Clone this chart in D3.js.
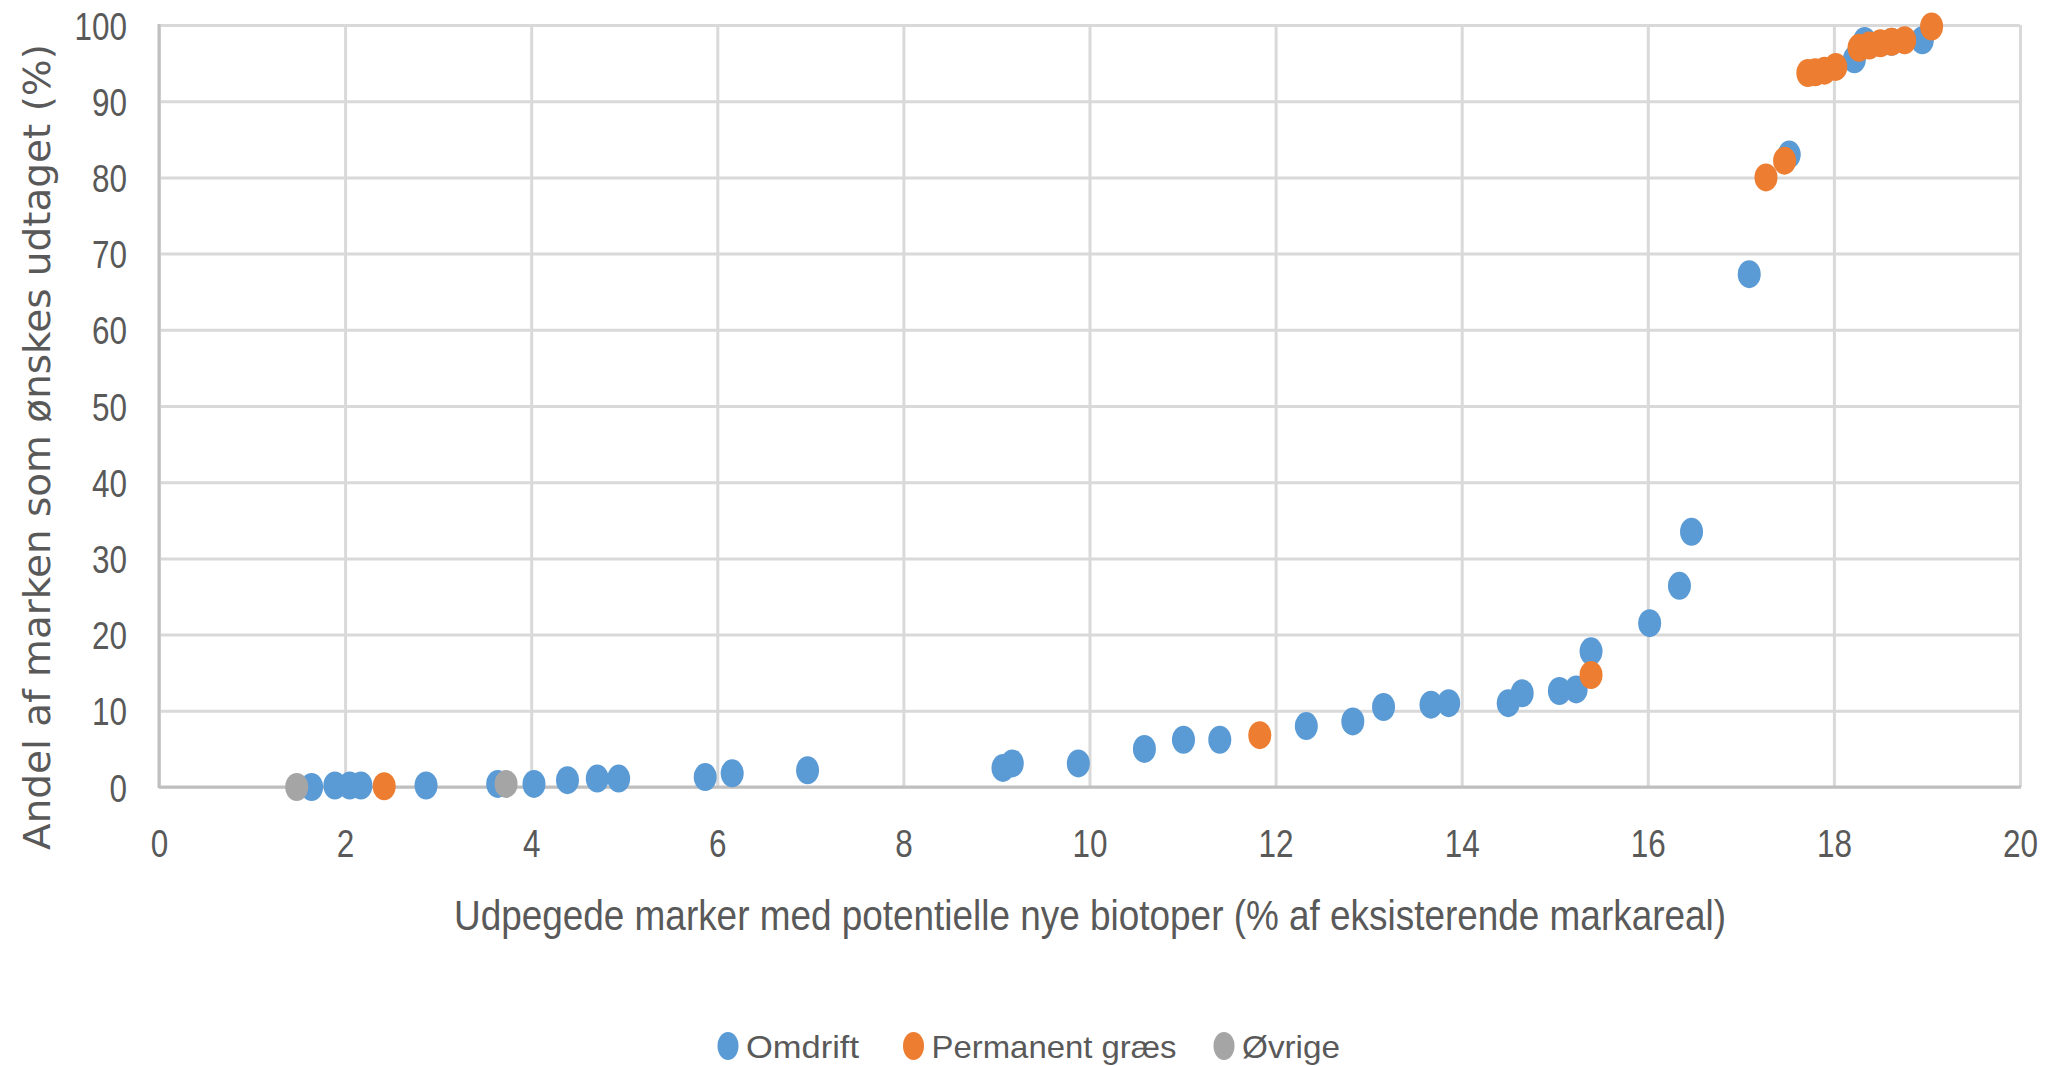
<!DOCTYPE html>
<html>
<head>
<meta charset="utf-8">
<script src="https://cdn.jsdelivr.net/npm/d3@7/dist/d3.min.js"></script>
<style>
  body { margin: 0; background: #fff; }
  svg { display: block; }
  .tick text { font-family: "Liberation Sans Narrow", "Arial Narrow", "Liberation Sans", sans-serif; fill: #595959; }
</style>
</head>
<body>
<svg width="2049" height="1066"></svg>
<script>
// data aflaest fra figuren
var omdriftX = [1.64, 1.89, 2.05, 2.17, 2.87, 3.64, 4.03, 4.39, 4.71, 4.94, 5.87, 6.16, 6.97, 9.07, 9.17, 9.88, 10.59, 11.01, 11.40, 12.33, 12.83, 13.16, 13.67, 13.86, 14.50, 14.65, 15.05, 15.23, 15.39, 16.02, 16.34, 16.47, 17.09, 17.52, 18.22, 18.33, 18.62, 18.95];
var omdriftY = [0.0, 0.2, 0.2, 0.2, 0.2, 0.4, 0.4, 0.9, 1.1, 1.1, 1.3, 1.8, 2.2, 2.5, 3.1, 3.1, 5.0, 6.2, 6.2, 8.0, 8.6, 10.5, 10.8, 11.0, 11.0, 12.3, 12.6, 12.8, 17.8, 21.5, 26.4, 33.5, 67.3, 83.0, 95.5, 97.9, 97.8, 98.0];

var graesX = [2.42, 11.83, 15.39, 17.27, 17.47, 17.72, 17.80, 17.90, 18.02, 18.27, 18.38, 18.50, 18.62, 18.76, 19.05];
var graesY = [0.1, 6.8, 14.7, 80.0, 82.2, 93.7, 93.8, 94.0, 94.5, 97.0, 97.3, 97.6, 97.8, 98.0, 99.8];

var oevrigeX = [1.48, 3.73];
var oevrigeY = [0.0, 0.4];

var xTicks = [0, 2, 4, 6, 8, 10, 12, 14, 16, 18, 20];
var yTicks = [0, 10, 20, 30, 40, 50, 60, 70, 80, 90, 100];

var seriesNames = ["Omdrift", "Permanent græs", "Øvrige"];
var seriesColors = ["#5B9BD5", "#ED7D31", "#A5A5A5"];

var svg = d3.select("svg");

// plotomraadet
var pLeft = 159, pRight = 2020, pTop = 25, pBottom = 787;

var x = d3.scaleLinear().domain([0, 20]).range([pLeft, pRight]);
var y = d3.scaleLinear().domain([0, 100]).range([pBottom, pTop]);

// gitterlinjer + akser
var gx = svg.append("g")
  .attr("transform", "translate(0," + pBottom + ")")
  .call(d3.axisBottom(x).tickValues(xTicks).tickSize(-(pBottom - pTop)).tickFormat(d3.format("d")));
gx.select(".domain").remove();
gx.selectAll("line").attr("stroke", "#d9d9d9").attr("stroke-width", 3);
gx.selectAll("text")
  .attr("y", 70).attr("dy", 0).attr("font-size", 39)
  .attr("textLength", function(d) { return String(d).length * 17.5; })
  .attr("lengthAdjust", "spacingAndGlyphs");

var gy = svg.append("g")
  .attr("transform", "translate(" + pLeft + ",0)")
  .call(d3.axisLeft(y).tickValues(yTicks).tickSize(-(pRight - pLeft)).tickPadding(32));
gy.select(".domain").remove();
gy.selectAll("line").attr("stroke", "#d9d9d9").attr("stroke-width", 3);
gy.selectAll("text")
  .attr("font-size", 39).attr("dy", "0.36em")
  .attr("textLength", function(d) { return String(d).length * 17.5; })
  .attr("lengthAdjust", "spacingAndGlyphs");

// akselinjer
svg.append("line").attr("x1", pLeft).attr("x2", pLeft).attr("y1", pTop - 1).attr("y2", pBottom + 1)
  .attr("stroke", "#bfbfbf").attr("stroke-width", 3);
svg.append("line").attr("x1", pLeft).attr("x2", pRight + 1).attr("y1", pBottom).attr("y2", pBottom)
  .attr("stroke", "#bfbfbf").attr("stroke-width", 3);

// punkter
var series = [
  d3.zip(omdriftX, omdriftY),
  d3.zip(graesX, graesY),
  d3.zip(oevrigeX, oevrigeY)
];

series.forEach(function(s, i) {
  svg.append("g").selectAll("ellipse")
    .data(s)
    .enter().append("ellipse")
    .attr("cx", function(d) { return x(d[0]); })
    .attr("cy", function(d) { return y(d[1]); })
    .attr("rx", 11.5)
    .attr("ry", 14)
    .attr("fill", seriesColors[i]);
});

// aksetitler
svg.append("text")
  .attr("transform", "translate(50,447) rotate(-90)")
  .attr("text-anchor", "middle")
  .attr("font-family", "DejaVu Sans, sans-serif")
  .attr("font-size", 38)
  .attr("fill", "#595959")
  .attr("textLength", 806)
  .attr("lengthAdjust", "spacingAndGlyphs")
  .text("Andel af marken som ønskes udtaget (%)");

svg.append("text")
  .attr("x", 1090)
  .attr("y", 930)
  .attr("text-anchor", "middle")
  .attr("font-family", "Liberation Sans Narrow, Arial Narrow, Liberation Sans, sans-serif")
  .attr("font-size", 42)
  .attr("fill", "#595959")
  .attr("textLength", 1272)
  .attr("lengthAdjust", "spacingAndGlyphs")
  .text("Udpegede marker med potentielle nye biotoper (% af eksisterende markareal)");

// legende
var legendX = [728, 913.5, 1224];
var legendW = [113, 245, 98];
var lg = svg.append("g");
seriesNames.forEach(function(name, i) {
  lg.append("ellipse")
    .attr("cx", legendX[i]).attr("cy", 1046)
    .attr("rx", 10.5).attr("ry", 14)
    .attr("fill", seriesColors[i]);
  lg.append("text")
    .attr("x", legendX[i] + 18)
    .attr("y", 1058)
    .attr("font-family", "Liberation Sans Narrow, Arial Narrow, Liberation Sans, sans-serif")
    .attr("font-size", 32)
    .attr("fill", "#595959")
    .attr("textLength", legendW[i])
    .attr("lengthAdjust", "spacingAndGlyphs")
    .text(name);
});
</script>
</body>
</html>
